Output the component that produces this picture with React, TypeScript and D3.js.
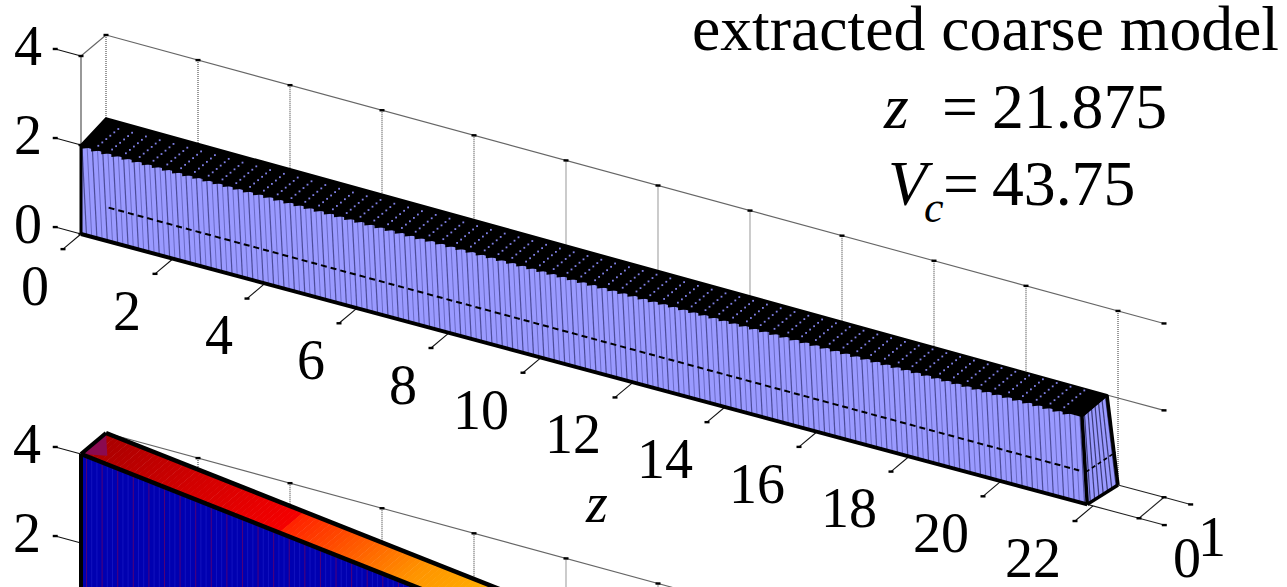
import React from 'react'
import * as d3 from 'd3'

const zTicks = [0, 2, 4, 6, 8, 10, 12, 14, 16, 18, 20, 22]
const hTicks = [0, 2, 4]
const lowerHTicks = [2, 4]
const lowerWallTicks = [2, 4, 6, 8, 10, 12]

const zEnd = 21.875
const zMax = 23

// coarse model, top plot: [z, height] along the front and back edges
const frontTop = [[0, 2], [21.76, 2]]
const backTop = [[0, 2.13], [21.76, 2]]
const dashedEdge = [[0.6, 0.76], [21.7, 0.73]]
const dashedEnd = [[21.85, 0.0], [21.95, 1.0]]

// lower plot, the ramp
const lowerZ = [0, 13]
const lowerH = [4, 2.31]

const rampStops = [0, 2, 4.2, 4.3, 7, 9, 13]
const rampColors = ['#a80000', '#d00000', '#f40000', '#ff2400', '#ff9400', '#ffbc00', '#ffe000']

type View = { x0: number; y0: number; zx: number; zy: number; dx: number; dy: number; h0: number; h1: number }

const topView: View = { x0: 81, y0: 234, zx: 46, zy: 12.36, dx: 25, dy: -21, h0: 44.5, h1: 43.5 }
const lowView: View = { x0: 81, y0: 632, zx: 46, zy: 12.36, dx: 25, dy: -21, h0: 44.5, h1: 43.5 }

const projector = (v: View) => {
  const sx = d3.scaleLinear().domain([0, 22]).range([v.x0, v.x0 + 22 * v.zx])
  const sy = d3.scaleLinear().domain([0, 22]).range([v.y0, v.y0 + 22 * v.zy])
  const hs = d3.scaleLinear().domain([0, 22]).range([v.h0, v.h1])
  return (z: number, y: number, h: number): [number, number] => [
    sx(z) + v.dx * y,
    sy(z) + v.dy * y - hs(z) * h,
  ]
}

const P = projector(topView)
const Q = projector(lowView)
const line = d3.line()
const font = '"Liberation Serif", "Times New Roman", serif'

const Seg = ({ a, b, color = '#666', w = 1.1, dash }: any) => (
  <line x1={a[0]} y1={a[1]} x2={b[0]} y2={b[1]} stroke={color} strokeWidth={w} strokeDasharray={dash} />
)
const Dot = ({ p }: any) => <rect x={p[0] - 2.5} y={p[1] - 1.2} width={5} height={2.4} fill="#000" />

const Txt = ({ x, y, size = 56, italic, anchor = 'start', children }: any) => (
  <text x={x} y={y} fontSize={size} fontStyle={italic ? 'italic' : 'normal'} textAnchor={anchor} fill="#000">
    {children}
  </text>
)

const wallBack = (proj: any, ticks: number[], bottom: number) => (
  <g>
    {ticks.map(t => (
      <g key={t}>
        <Seg a={proj(t, 1, 4)} b={proj(t, 1, bottom)} color="#555" w={1.2} dash="1 1" />
        <Dot p={proj(t, 1, 4)} />
      </g>
    ))}
  </g>
)

function TopPlot() {
  const mesh = d3.range(0.12, zEnd, 0.113)
  const dotRows = d3.range(0.3, 21.5, 0.3)
  const dotCols = d3.range(0.14, 0.95, 0.16)
  const endMesh = d3.range(0.1, 1, 0.14)
  const steps = d3.range(0, 21.5, 0.22)

  const top = [
    P(frontTop[0][0], 0, frontTop[0][1]),
    P(frontTop[1][0], 0, frontTop[1][1]),
    P(backTop[1][0], 1, backTop[1][1]),
    P(backTop[0][0], 1, backTop[0][1]),
  ]
  const wall = [P(0, 0, 2), P(21.76, 0, 2), P(zEnd, 0, 0), P(0, 0, 0)]
  const end = [P(21.76, 0, 2), P(21.76, 1, 2), P(22, 1, 0), P(zEnd, 0, 0)]

  return (
    <g>
      {/* box of the axes */}
      <Seg a={P(0, 0, 4)} b={P(0, 0, 0)} color="#444" />
      <Seg a={P(0, 0, 4)} b={P(0, 1, 4)} />
      <Seg a={P(0, 1, 4)} b={P(zMax, 1, 4)} />
      <Seg a={P(21.76, 1, 2)} b={P(zMax, 1, 2)} />
      <Seg a={P(22, 1, 0)} b={P(zMax, 1, 0)} color="#222" />
      <Seg a={P(zMax, 1, 0)} b={P(zMax + 0.58, 1, 0)} color="#222" />
      <Seg a={P(zEnd, 0, 0)} b={P(zMax, 0, 0)} color="#222" />
      <Seg a={P(zMax, 0, 0)} b={P(zMax + 0.55, 0, 0)} color="#222" />
      <Seg a={P(zMax, 0, 0)} b={P(zMax, 1, 0)} color="#222" />
      <Dot p={P(zMax, 1, 4)} />
      <Dot p={P(zMax, 1, 2)} />
      <Dot p={P(zMax, 1, 0)} />
      <Dot p={P(zMax, 0, 0)} />
      <Dot p={P(zMax + 0.58, 1, 0)} />
      <Dot p={P(zMax + 0.55, 0, 0)} />
      {wallBack(P, zTicks, 0)}
      {hTicks.map(h => (
        <g key={h}>
          <Seg a={P(0, 0, h)} b={P(-0.56, 0, h)} color="#111" />
          <Dot p={P(-0.56, 0, h)} />
          <Dot p={P(0, 0, h)} />
          <Txt x={42} y={P(0, 0, h)[1] + 9} anchor="end">{h}</Txt>
        </g>
      ))}
      {zTicks.map(t => {
        const p = P(t, 0, 0)
        const q = P(t, -0.72, 0)
        return (
          <g key={t}>
            <Seg a={p} b={q} color="#111" />
            <Dot p={q} />
            <Txt x={p[0] - 32} y={p[1] + 71} anchor="end">{t}</Txt>
          </g>
        )
      })}

      {/* model */}
      <path d={line(end)!} fill="#9a9aff" stroke="none" />
      <path d={line(wall)!} fill="#9a9aff" stroke="none" />
      {mesh.map((z, i) => (
        <Seg
          key={z}
          a={P(z - 0.1, 0, 2)}
          b={P(z, 0, 0)}
          color={i % 2 === 0 ? '#4c4c98' : '#6a6ac4'}
          w={i % 2 === 0 ? 1.2 : 1}
        />
      ))}
      {endMesh.map(y => (
        <Seg key={y} a={P(21.76, y, 2)} b={P(21.875 + 0.125 * y, y, 0)} color="#3a3a78" w={1.2} />
      ))}
      <path d={line(dashedEdge.map(d => P(d[0], 0, d[1])))!} fill="none" stroke="#000" strokeWidth={2} strokeDasharray="6 4" />
      <path d={line(dashedEnd.map(d => P(d[0], d[1], 0.74)))!} fill="none" stroke="#000" strokeWidth={1.6} strokeDasharray="4 3" />
      <path d={line(top)! + 'Z'} fill="#000" stroke="#000" strokeWidth={2} strokeLinejoin="round" />
      {/* purple starts in flat steps under the top surface */}
      {steps.map(z => {
        const a = P(z, 0, 2)
        const b = P(z + 0.22, 0, 2)
        return <path key={z} d={line([a, b, [a[0], b[1] + 1]])! + 'Z'} fill="#000" />
      })}
      {dotRows.map(z =>
        dotCols.map(y => {
          const p = P(z, y, 2)
          return <rect key={z + '-' + y} x={p[0] - 0.9} y={p[1] - 0.9} width={1.8} height={1.8} fill="#8e8eff" opacity={0.9} />
        })
      )}
      <Seg a={P(0, 0, 2)} b={P(0, 0, 0)} color="#000" w={3} />
      <Seg a={P(0, 0, 0)} b={P(zEnd, 0, 0)} color="#000" w={4} />
      <Seg a={P(21.76, 0, 2)} b={P(zEnd, 0, 0)} color="#000" w={3.5} />
      <Seg a={P(21.76, 1, 2)} b={P(22, 1, 0)} color="#000" w={3.5} />
      <Seg a={P(zEnd, 0, 0)} b={P(22, 1, 0)} color="#000" w={3.5} />
      <Seg a={P(21.76, 0, 2)} b={P(21.76, 1, 2)} color="#000" w={3} />
    </g>
  )
}

function LowerPlot() {
  const hAt = d3.scaleLinear().domain(lowerZ).range(lowerH)
  const color = d3.scaleLinear<string>().domain(rampStops).range(rampColors)
  const strips = d3.range(lowerZ[0], lowerZ[1], 0.1)
  const mesh = d3.range(0.12, lowerZ[1], 0.113)
  const front = [Q(0, 0, 4), Q(lowerZ[1], 0, lowerH[1]), Q(lowerZ[1], 0, 0), Q(0, 0, 0)]

  return (
    <g>
      <Seg a={Q(0, 1, 4)} b={Q(zMax, 1, 4)} />
      {wallBack(Q, lowerWallTicks, 2.6)}
      {lowerHTicks.map(h => (
        <g key={h}>
          <Seg a={Q(0, 0, h)} b={Q(-0.56, 0, h)} color="#111" />
          <Dot p={Q(-0.56, 0, h)} />
          <Txt x={41} y={Q(0, 0, h)[1] + 9} anchor="end">{h}</Txt>
        </g>
      ))}
      <path d={line(front)!} fill="#0000b0" />
      {mesh.map((z, i) => (
        <Seg key={z} a={Q(z, 0, hAt(z))} b={Q(z, 0, 0)} color={i % 3 === 0 ? '#5a0070' : '#1414c0'} w={0.9} />
      ))}
      {strips.map(z => (
        <path
          key={z}
          d={line([Q(z, 0, hAt(z)), Q(z + 0.11, 0, hAt(z + 0.11)), Q(z + 0.11, 1, hAt(z + 0.11)), Q(z, 1, hAt(z))])!}
          fill={color(z)}
        />
      ))}
      <path d={line([Q(0, 0, 4), Q(0, 1, 4), Q(0.42, 0.28, hAt(0.42))])!} fill="#8a0a50" />
      <Seg a={Q(0, 0, 0)} b={Q(0, 0, 4)} color="#000" w={4} />
      <Seg a={Q(0, 0, 4)} b={Q(0, 1, 4)} color="#000" w={4} />
      <Seg a={Q(0, 0, 4)} b={Q(lowerZ[1], 0, lowerH[1])} color="#000" w={4.5} />
      <Seg a={Q(0, 1, 4)} b={Q(lowerZ[1], 1, lowerH[1])} color="#000" w={4.5} />
    </g>
  )
}

export default function App() {
  return (
    <svg
      width={1287}
      height={587}
      style={{ position: 'absolute', left: 0, top: 0, background: '#fff', fontFamily: font }}
    >
      <LowerPlot />
      <TopPlot />
      <Txt x={597} y={522} italic anchor="middle">z</Txt>
      <Txt x={1173} y={577}>0</Txt>
      <Txt x={1198} y={556}>1</Txt>
      <Txt x={692} y={50} size={63.7}>extracted coarse model</Txt>
      <Txt x={884} y={128} size={63.7} italic>z</Txt>
      <Txt x={942} y={128} size={63.7}>=</Txt>
      <Txt x={992} y={128} size={63.7}>21.875</Txt>
      <Txt x={888} y={205} size={63.7} italic>V</Txt>
      <Txt x={924} y={222} size={44} italic>c</Txt>
      <Txt x={943} y={205} size={63.7}>=</Txt>
      <Txt x={992} y={205} size={63.7}>43.75</Txt>
    </svg>
  )
}
